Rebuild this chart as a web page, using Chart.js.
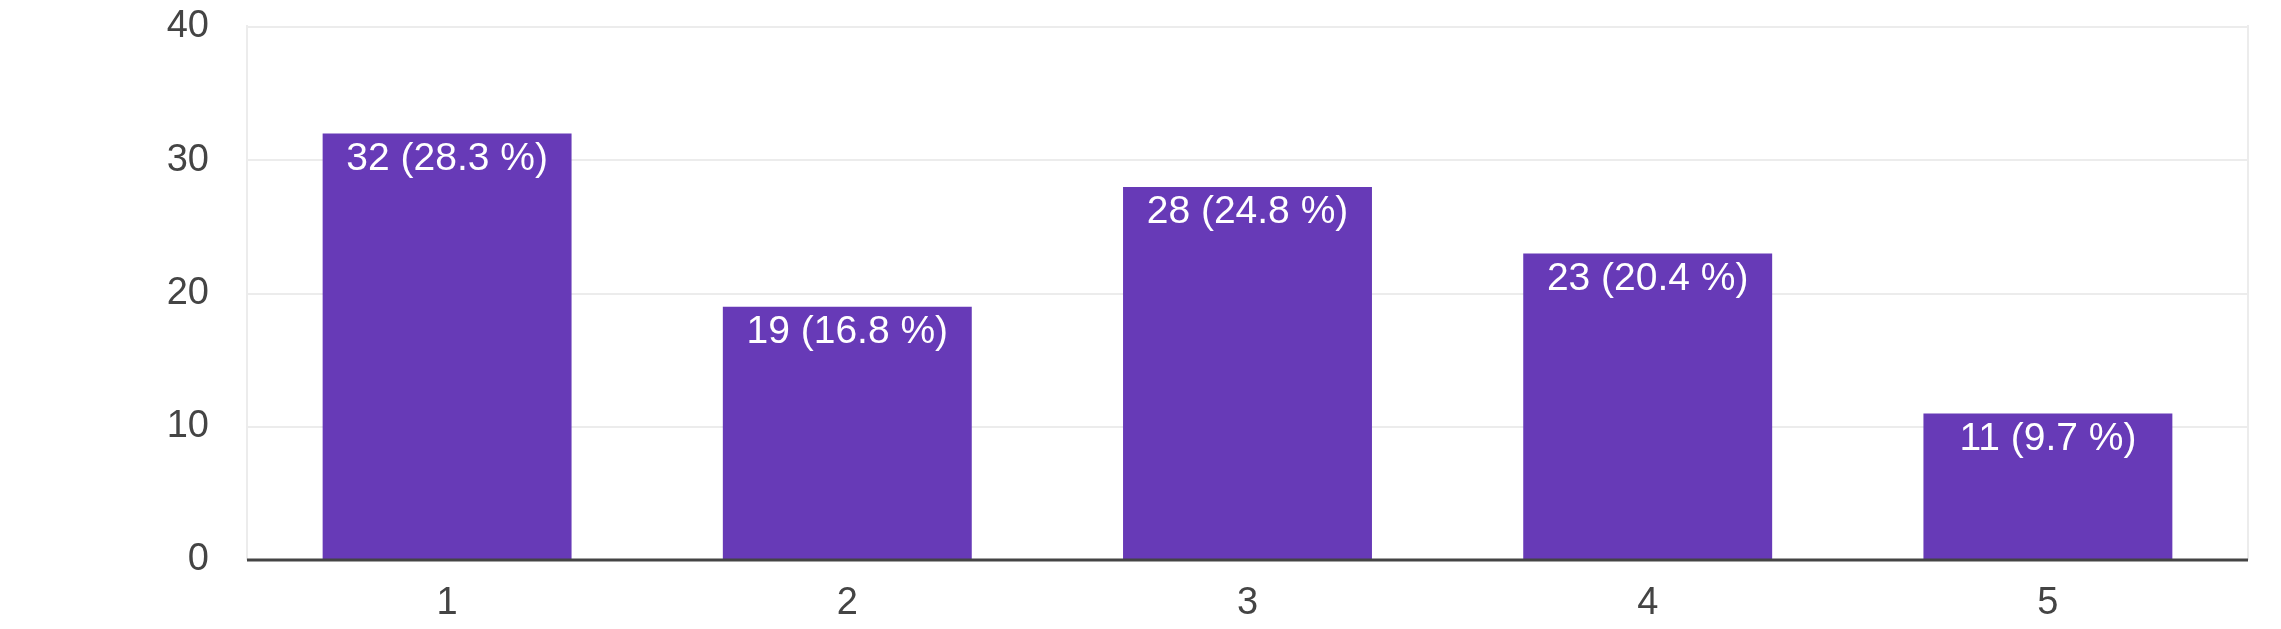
<!DOCTYPE html>
<html>
<head>
<meta charset="utf-8">
<script src="https://cdn.jsdelivr.net/npm/chart.js@4/dist/chart.umd.min.js"></script>
<style>
  html, body { margin: 0; padding: 0; background: #ffffff; }
  #wrap { width: 2281px; height: 629px; }
</style>
</head>
<body>
<div id="wrap"><canvas id="c" width="2281" height="629"></canvas></div>
<script>
const categories = ['1', '2', '3', '4', '5'];
const counts = [32, 19, 28, 23, 11];
const percents = ['28.3', '16.8', '24.8', '20.4', '9.7'];
const yTicks = [0, 10, 20, 30, 40];

const FONT = "'Liberation Sans', Arial, sans-serif";

const edgePlugin = {
  id: 'edges',
  beforeDatasetsDraw(chart) {
    const { ctx, chartArea: a } = chart;
    ctx.save();
    ctx.strokeStyle = '#ececec';
    ctx.lineWidth = 2;
    ctx.beginPath();
    ctx.moveTo(a.left, a.top - 2); ctx.lineTo(a.left, a.bottom);
    ctx.moveTo(a.right, a.top - 2); ctx.lineTo(a.right, a.bottom);
    ctx.stroke();
    ctx.restore();
  }
};

const labelPlugin = {
  id: 'barLabels',
  afterDatasetsDraw(chart) {
    const { ctx } = chart;
    const meta = chart.getDatasetMeta(0);
    ctx.save();
    ctx.fillStyle = '#ffffff';
    ctx.font = '39px ' + FONT;
    ctx.textAlign = 'center';
    ctx.textBaseline = 'top';
    meta.data.forEach((bar, i) => {
      ctx.fillText(counts[i] + ' (' + percents[i] + ' %)', bar.x, bar.y + 6);
    });
    ctx.restore();
  }
};

const axisPlugin = {
  id: 'baseAxis',
  afterDatasetsDraw(chart) {
    const { ctx, chartArea: a } = chart;
    const y0 = chart.scales.y.getPixelForValue(0);
    ctx.save();
    ctx.strokeStyle = '#444444';
    ctx.lineWidth = 3;
    ctx.beginPath();
    ctx.moveTo(a.left, y0); ctx.lineTo(a.right, y0);
    ctx.stroke();
    ctx.restore();
  }
};

new Chart(document.getElementById('c'), {
  type: 'bar',
  data: {
    labels: categories,
    datasets: [{
      data: counts,
      backgroundColor: '#673AB7',
      borderWidth: 0,
      categoryPercentage: 1.0,
      barPercentage: 0.622
    }]
  },
  options: {
    responsive: false,
    animation: false,
    devicePixelRatio: 1,
    layout: { padding: { top: 27, right: 33, left: 0, bottom: 0 } },
    plugins: { legend: { display: false }, tooltip: { enabled: false } },
    scales: {
      x: {
        grid: { display: false, drawTicks: false },
        border: { display: false },
        ticks: { color: '#444444', font: { family: FONT, size: 38 }, padding: 21 },
        afterFit(s) { s.height = 69; s.paddingLeft = 0; s.paddingRight = 0; }
      },
      y: {
        min: 0, max: 40,
        afterBuildTicks(s) { s.ticks = yTicks.map(v => ({ value: v })); },
        grid: { color: '#ececec', lineWidth: 2, drawTicks: false },
        border: { display: false },
        ticks: { color: '#444444', font: { family: FONT, size: 38 }, padding: 38 },
        afterFit(s) { s.width = 247; s.paddingTop = 0; s.paddingBottom = 0; }
      }
    }
  },
  plugins: [edgePlugin, labelPlugin, axisPlugin]
});
</script>
</body>
</html>
